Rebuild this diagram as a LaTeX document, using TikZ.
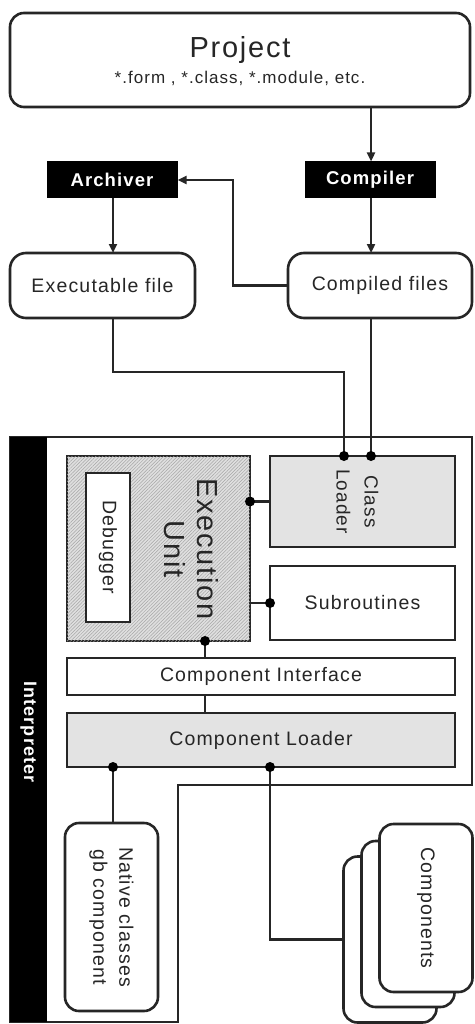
\documentclass[tikz,border=0pt]{standalone}
\usepackage{fontspec}
\setmainfont{Liberation Sans}[LetterSpace=6]
\usetikzlibrary{arrows.meta,patterns.meta,calc}
\begin{document}
\begin{tikzpicture}[x=1pt,y=-1pt,
  ln/.style={line width=2.6pt, draw=black!85},
  txt/.style={inner sep=0pt, text=black!85, align=center, font=\fontsize{19.5}{27}\selectfont},
  box/.style={ln, inner sep=0pt, outer sep=0pt, text=black!85, align=center, font=\fontsize{19.5}{27}\selectfont, fill=white},
  rbox/.style={box, rounded corners=14pt},
  blk/.style={fill=black, draw=black, line width=1pt, inner sep=0pt, text=white, font=\bfseries\fontsize{18.5}{20}\selectfont},
  graybox/.style={box, fill=gray!22},
  hatch/.style={box, fill=gray!25, postaction={pattern={Lines[angle=45,distance=2.4pt,line width=0.5pt]}, pattern color=gray!70}},
  arr/.style={ln, -{Triangle[length=9pt,width=8pt]}},
  dotc/.style={fill=black}
]
\useasboundingbox (0,0) rectangle (474,1024);

% column coordinates
\coordinate (colA) at (205,0);
\coordinate (colB) at (344,0);
\coordinate (colC) at (371,0);
\coordinate (colD) at (113,0);
\coordinate (colE) at (270,0);
\coordinate (bend) at (233,180);
\coordinate (jog) at (344,372);

% top part
\node[rbox, minimum width=460pt, minimum height=94pt] (project) at (240,60) {};
\node[txt, anchor=base, font=\fontsize{29}{30}\selectfont] (ptitle) at (240,58) {Project};
\node[txt, anchor=base, font=\fontsize{17}{20}\selectfont] (psub) at (240,84) {*.form , *.class, *.module, etc.};

\node[blk, minimum width=130pt, minimum height=36pt] (archiver) at (112,180) {Archiver};
\node[blk, minimum width=130pt, minimum height=36pt] (compiler) at (370,180) {Compiler};

\node[rbox, rounded corners=16pt, minimum width=185pt, minimum height=65pt] (exefile) at (102.5,285.5) {Executable file};
\node[rbox, rounded corners=16pt, minimum width=184pt, minimum height=65pt] (compiled) at (380,285.5) {Compiled files};

% interpreter frame
\draw[ln, fill=white] (10,437) -- (472,437) -- (472,785) -- (178,785) -- (178,1022) -- (10,1022) -- cycle;
\fill[black] (10,437) rectangle (47,1022);
\node[rotate=-90, inner sep=0pt, text=white, font=\bfseries\fontsize{18}{20}\selectfont] (interp) at (28.5,732) {Interpreter};

% inner boxes
\node[hatch, minimum width=183pt, minimum height=185pt] (exec) at (158.5,548.5) {};
\node[box, minimum width=44pt, minimum height=149pt] (dbg) at (108,547.5) {};
\node[txt, rotate=-90] (dbgt) at (dbg.center) {Debugger};
\node[txt, rotate=-90, font=\fontsize{29}{33}\selectfont] (exect) at (191,549) {Execution\\Unit};

\node[graybox, minimum width=185pt, minimum height=91pt] (cls) at (362.5,501.5) {};
\node[txt, rotate=-90, font=\fontsize{19}{28}\selectfont] (clst) at (357.5,501.5) {Class\\Loader};

\node[box, minimum width=185pt, minimum height=74pt] (sub) at (362.5,603) {Subroutines};

\node[box, minimum width=388pt, minimum height=37pt] (ci) at (261,676.5) {Component Interface};
\node[graybox, minimum width=388pt, minimum height=54pt] (cl) at (261,740) {Component Loader};

\node[rbox, minimum width=93pt, minimum height=188pt] (native) at (111.5,917) {};
\node[txt, rotate=-90, font=\fontsize{19.5}{26}\selectfont] (nativet) at (native.center) {Native classes\\gb component};

\node[rbox, minimum width=93pt, minimum height=166pt] (compC) at (390,939.5) {};
\node[rbox, minimum width=93pt, minimum height=166pt] (compB) at (408,924) {};
\node[rbox, minimum width=93pt, minimum height=168pt] (compA) at (426,908) {};
\node[txt, rotate=-90] (compt) at (compA.center) {Components};

% connectors top
\draw[arr] (project.south -| colC) -- (compiler.north -| colC);
\draw[arr] (archiver.south -| colD) -- (exefile.north -| colD);
\draw[arr] (compiler.south -| colC) -- (compiled.north -| colC);
\draw[arr] (compiled.west) -| (bend) -- (archiver.east);
\draw[ln] (exefile.south -| colD) |- (jog) -- (cls.north -| colB);
\draw[ln] (compiled.south -| colC) -- (cls.north -| colC);
\fill[dotc] (cls.north -| colB) circle[radius=5pt];
\fill[dotc] (cls.north -| colC) circle[radius=5pt];

% connectors inside
\draw[ln] (exec.east |- cls.west) -- (cls.west);
\fill[dotc] (exec.east |- cls.west) circle[radius=5pt];
\draw[ln] (exec.east |- sub.west) -- (sub.west);
\fill[dotc] (sub.west) circle[radius=5pt];
\draw[ln] (exec.south -| colA) -- (ci.north -| colA);
\fill[dotc] (exec.south -| colA) circle[radius=5pt];
\draw[ln] (ci.south -| colA) -- (cl.north -| colA);
\draw[ln] (cl.south -| colD) -- (native.north -| colD);
\fill[dotc] (cl.south -| colD) circle[radius=5pt];
\draw[ln] (cl.south -| colE) |- (compC.west);
\fill[dotc] (cl.south -| colE) circle[radius=5pt];
\end{tikzpicture}
\end{document}
